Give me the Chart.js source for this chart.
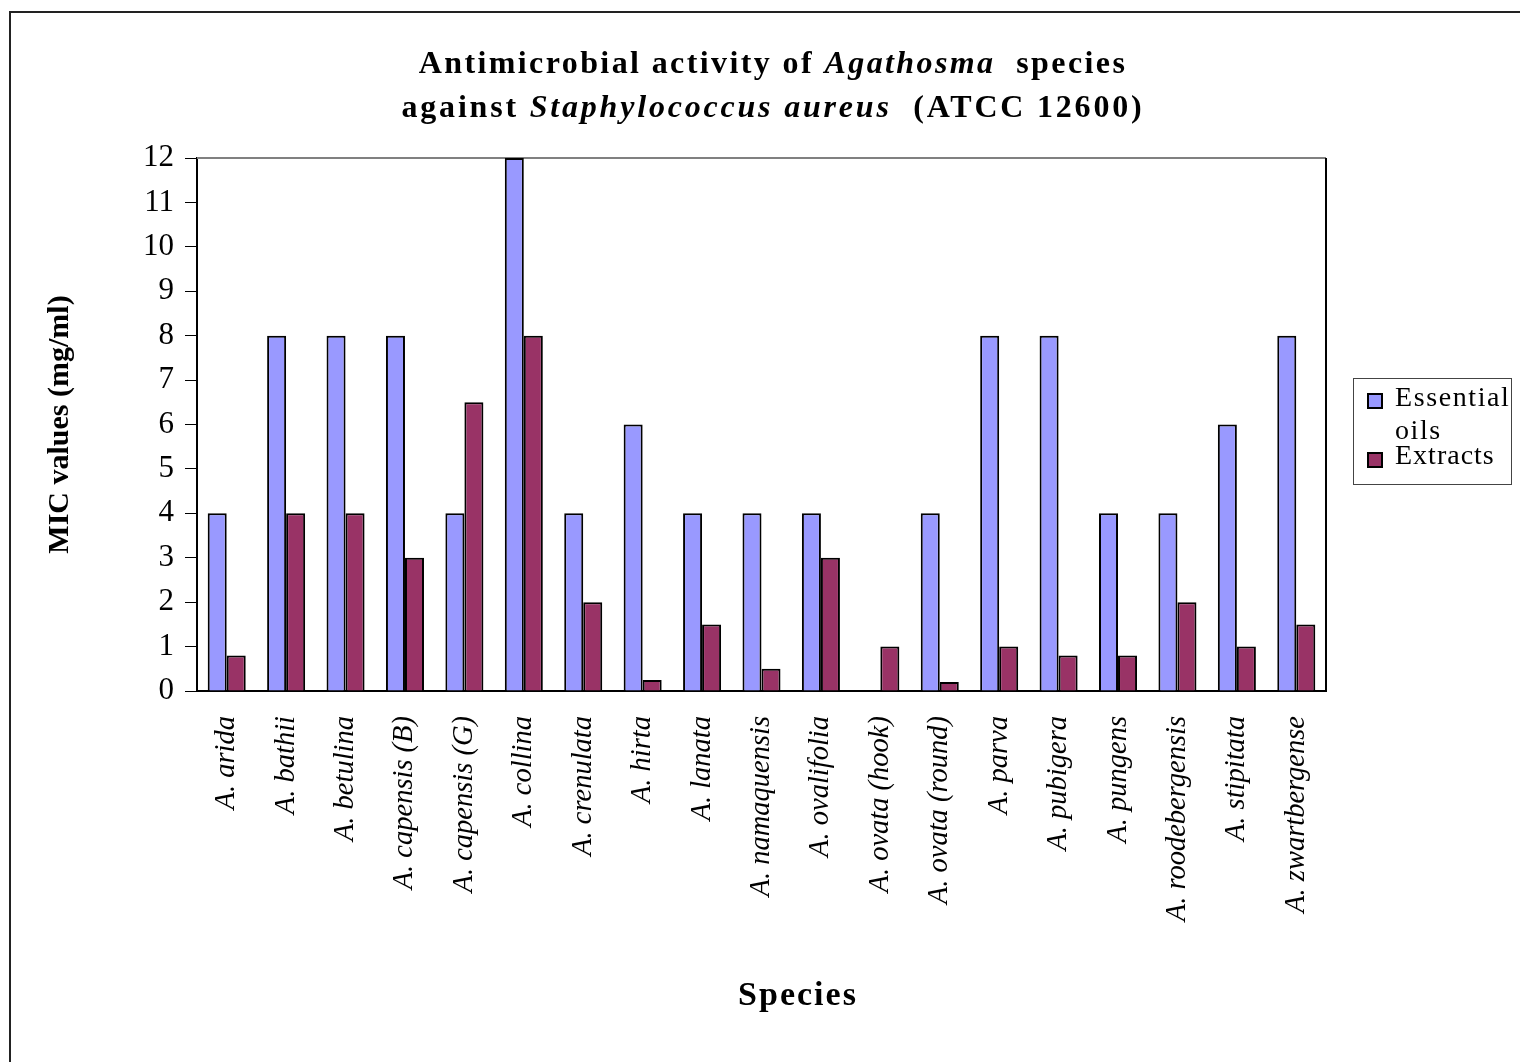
<!DOCTYPE html>
<html>
<head>
<meta charset="utf-8">
<script src="https://cdn.jsdelivr.net/npm/chart.js@4/dist/chart.umd.min.js"></script>
<style>
  body { margin: 0; background: #fff; font-family: "Liberation Serif", serif; }
  #wrap { position: relative; width: 1520px; height: 1062px; overflow: hidden; }
  #frame { position: absolute; left: 9px; top: 11px; width: 1600px; height: 1200px; border: 2px solid #222; }
  #title { position: absolute; left: 173px; width: 1200px; top: 40px; text-align: center; font-weight: bold; font-size: 32px; line-height: 44px; letter-spacing: 2.4px; }
  #title .l2 { letter-spacing: 2.8px; }
  #xtitle { position: absolute; left: 598px; width: 400px; top: 975px; text-align: center; font-weight: bold; font-size: 34px; letter-spacing: 2px; }
  #legend { position: absolute; left: 1353px; top: 378px; width: 157px; height: 105px; border: 1px solid #444; font-size: 28px; line-height: 33px; }
  .item { position: absolute; left: 13px; }
  .sw { position: absolute; left: 0; width: 12px; height: 12px; border: 2px solid #000; }
  .lbl { position: absolute; left: 28px; white-space: nowrap; letter-spacing: 1.6px; }
  canvas { position: absolute; left: 0; top: 0; }
</style>
</head>
<body>
<div id="wrap">
  <div id="frame"></div>
  <canvas id="chart" width="1520" height="1062"></canvas>
  <div id="title">Antimicrobial activity of <i>Agathosma</i>&nbsp; species<br><span class="l2">against <i>Staphylococcus aureus</i>&nbsp; (ATCC 12600)</span></div>
  <div id="xtitle">Species</div>
  <div id="legend">
    <div class="item" style="top:12px"><div class="sw" style="top:2px;background:#9999FF"></div><div class="lbl" style="top:-11px">Essential<br>oils</div></div>
    <div class="item" style="top:71px"><div class="sw" style="top:2px;background:#993366"></div><div class="lbl" style="top:-12px;letter-spacing:1px">Extracts</div></div>
  </div>
</div>
<script>
  const species = ['A. arida', 'A. bathii', 'A. betulina', 'A. capensis (B)', 'A. capensis (G)', 'A. collina',
    'A. crenulata', 'A. hirta', 'A. lanata', 'A. namaquensis', 'A. ovalifolia', 'A. ovata (hook)',
    'A. ovata (round)', 'A. parva', 'A. pubigera', 'A. pungens', 'A. roodebergensis', 'A. stipitata', 'A. zwartbergense'];
  const essentialOils = [4, 8, 8, 8, 4, 12, 4, 6, 4, 4, 4, null, 4, 8, 8, 4, 4, 6, 8];
  const extracts = [0.8, 4, 4, 3, 6.5, 8, 2, 0.25, 1.5, 0.5, 3, 1, 0.2, 1, 0.8, 0.8, 2, 1, 1.5];
  const yTicks = [0, 1, 2, 3, 4, 5, 6, 7, 8, 9, 10, 11, 12];

  Chart.defaults.font.family = '"Liberation Serif", serif';
  Chart.defaults.color = '#000';

  // frame round the plot area, drawn under the bars
  const plotBorder = {
    id: 'plotBorder',
    beforeDatasetsDraw(chart) {
      const { ctx, chartArea: a } = chart;
      ctx.save();
      ctx.lineWidth = 2;
      ctx.strokeStyle = '#808080';
      ctx.beginPath(); ctx.moveTo(a.left, a.top); ctx.lineTo(a.right, a.top); ctx.stroke();
      ctx.strokeStyle = '#000';
      ctx.beginPath(); ctx.moveTo(a.right, a.top); ctx.lineTo(a.right, a.bottom); ctx.stroke();
      ctx.restore();
    }
  };

  new Chart(document.getElementById('chart'), {
    type: 'bar',
    data: {
      labels: species,
      datasets: [
        { label: 'Essential oils', data: essentialOils, backgroundColor: '#9999FF', borderColor: '#000', borderWidth: 2 },
        { label: 'Extracts', data: extracts, backgroundColor: '#993366', borderColor: '#000', borderWidth: 2 }
      ]
    },
    options: {
      responsive: false,
      animation: false,
      layout: { padding: { left: 0, top: 158, right: 194, bottom: 0 } },
      datasets: { bar: { categoryPercentage: 0.64, barPercentage: 1 } },
      plugins: { legend: { display: false }, tooltip: { enabled: false } },
      scales: {
        x: {
          grid: { display: false },
          border: { color: '#000', width: 2 },
          ticks: { font: { size: 28.5, style: 'italic' }, minRotation: 90, maxRotation: 90, padding: 17 },
          afterFit: s => { s.height = 371; }
        },
        y: {
          min: 0, max: 12,
          afterBuildTicks: s => { s.ticks = yTicks.map(v => ({ value: v })); },
          grid: { drawOnChartArea: false, color: '#000', tickLength: 12, lineWidth: 1 },
          border: { color: '#000', width: 2 },
          ticks: { font: { size: 31 }, padding: 11 },
          title: { display: true, text: 'MIC values (mg/ml)', font: { size: 30, weight: 'bold' }, padding: { top: 42, bottom: 0 } },
          afterFit: s => { s.width = 197; }
        }
      }
    },
    plugins: [plotBorder]
  });
</script>
</body>
</html>
